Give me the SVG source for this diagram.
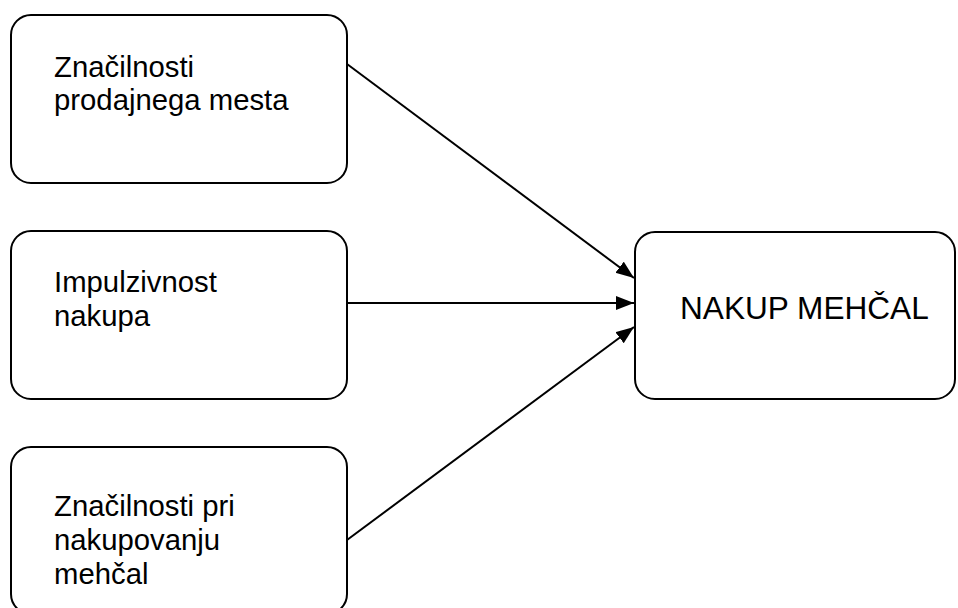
<svg xmlns="http://www.w3.org/2000/svg" width="958" height="608" viewBox="0 0 958 608">
  <style>
    .box { fill: #ffffff; stroke: #000000; stroke-width: 2; }
    .lbl { font-family: "Liberation Sans", Arial, sans-serif; font-size: 29.3px; fill: #000000; }
    .big { font-family: "Liberation Sans", Arial, sans-serif; font-size: 31.6px; fill: #000000; }
    .edge { stroke: #000000; stroke-width: 2; fill: none; marker-end: url(#arrow); }
  </style>
  <defs>
    <marker id="arrow" markerUnits="userSpaceOnUse" markerWidth="20" markerHeight="16" refX="18" refY="7" orient="auto">
      <path d="M0,0 L18,7 L0,14 Z" fill="#000000"/>
    </marker>
  </defs>
  <rect width="958" height="608" fill="#ffffff"/>

  <g id="connectors">
    <line class="edge" x1="347" y1="64" x2="634" y2="278"/>
    <line class="edge" x1="347" y1="303" x2="634" y2="303"/>
    <line class="edge" x1="347" y1="540" x2="634" y2="327"/>
  </g>

  <g id="node-prodajno-mesto">
    <rect class="box" x="11" y="15" width="336" height="168" rx="20" ry="20"/>
    <text class="lbl" x="54" y="77">Značilnosti</text>
    <text class="lbl" x="54" y="110">prodajnega mesta</text>
  </g>

  <g id="node-impulzivnost">
    <rect class="box" x="11" y="231" width="336" height="168" rx="20" ry="20"/>
    <text class="lbl" x="54" y="292">Impulzivnost</text>
    <text class="lbl" x="54" y="326">nakupa</text>
  </g>

  <g id="node-nakupovanje">
    <rect class="box" x="11" y="447" width="336" height="167" rx="20" ry="20"/>
    <text class="lbl" x="54" y="516">Značilnosti pri</text>
    <text class="lbl" x="54" y="550">nakupovanju</text>
    <text class="lbl" x="54" y="584">mehčal</text>
  </g>

  <g id="node-nakup-mehcal">
    <rect class="box" x="635" y="232" width="320" height="167" rx="20" ry="20"/>
    <text class="big" x="680" y="319">NAKUP MEHČAL</text>
  </g>
</svg>
